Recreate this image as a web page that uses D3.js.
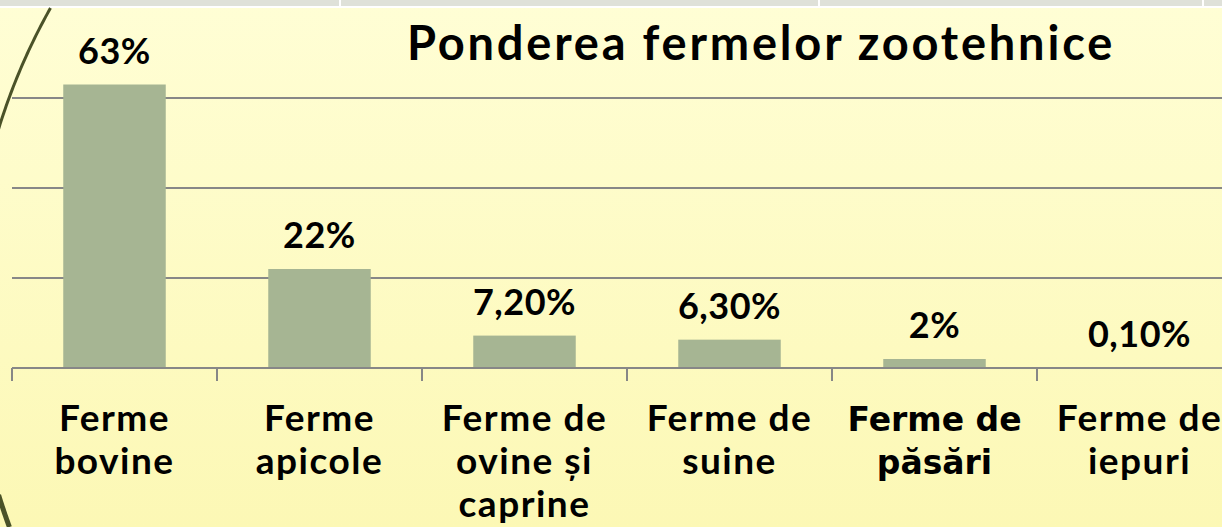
<!DOCTYPE html>
<html>
<head>
<meta charset="utf-8">
<script src="https://cdn.jsdelivr.net/npm/d3@7"></script>
<style>
html,body{margin:0;padding:0;background:#fffdd0;}
svg{display:block;}
</style>
</head>
<body>
<script>
const categories = ["Ferme bovine","Ferme apicole","Ferme de ovine și caprine","Ferme de suine","Ferme de păsări","Ferme de iepuri"];
const categoryLines = [["Ferme","bovine"],["Ferme","apicole"],["Ferme de","ovine și","caprine"],["Ferme de","suine"],["Ferme de","păsări"],["Ferme de","iepuri"]];
const values = [63, 22, 7.2, 6.3, 2, 0.1];
const valueLabels = ["63%","22%","7,20%","6,30%","2%","0,10%"];
const yTicks = [0, 20, 40, 60];
const title = "Ponderea fermelor zootehnice";

const W = 1222, H = 527;
const svg = d3.select("body").append("svg").attr("width", W).attr("height", H);
const defs = svg.append("defs");
const g1 = defs.append("linearGradient").attr("id","bg").attr("x1",0).attr("y1",0).attr("x2",0).attr("y2",1);
g1.append("stop").attr("offset","0%").attr("stop-color","#fffed5");
g1.append("stop").attr("offset","100%").attr("stop-color","#fcf8b5");
svg.append("rect").attr("width",W).attr("height",H).attr("fill","url(#bg)");

// top strip
svg.append("rect").attr("x",0).attr("y",0).attr("width",W).attr("height",6).attr("fill","#dfe1d9");
svg.append("rect").attr("x",0).attr("y",6).attr("width",W).attr("height",2).attr("fill","#ffffff");
[339, 818, 1202].forEach(x => svg.append("rect").attr("x",x).attr("y",0).attr("width",2).attr("height",7).attr("fill","#ffffff"));

// decorative arc (part of a large circle)
const cx = 592, cy = 312, r = 621;
function arcPts(y0, y1, n){
  const pts=[];
  for(let i=0;i<=n;i++){const yy=y0+(y1-y0)*i/n; const dx=Math.sqrt(r*r-(yy-cy)*(yy-cy)); pts.push([cx-dx,yy]);}
  return pts;
}
svg.append("path").attr("d", d3.line()(arcPts(8,130,40))).attr("fill","none").attr("stroke","#4a5228").attr("stroke-width",3);
svg.append("path").attr("d", d3.line()(arcPts(495,527,20))).attr("fill","none").attr("stroke","#4a5228").attr("stroke-width",5);

const x = d3.scaleBand().domain(categories).range([12, 1242]).paddingInner(0.5).paddingOuter(0.25);
const y = d3.scaleLinear().domain([0, 80]).range([368, 8]);

// gridlines
svg.append("g").selectAll("line").data(yTicks.filter(d=>d>0)).join("line")
  .attr("x1",12).attr("x2",W).attr("y1",d=>y(d)).attr("y2",d=>y(d))
  .attr("stroke","#878787").attr("stroke-width",2);

// bars
svg.append("g").selectAll("rect").data(values).join("rect")
  .attr("x",(d,i)=>x(categories[i])).attr("width",x.bandwidth())
  .attr("y",d=>y(d)).attr("height",d=>y(0)-y(d))
  .attr("fill","#a6b593");

// x axis baseline and ticks
svg.append("line").attr("x1",12).attr("x2",W).attr("y1",y(0)).attr("y2",y(0)).attr("stroke","#878787").attr("stroke-width",2);
const tickXs = categories.map(c => x(c) - x.step()*0.25).concat([x(categories[categories.length-1]) + x.step()*0.75]);
svg.append("g").selectAll("line").data(tickXs).join("line")
  .attr("x1",d=>d).attr("x2",d=>d).attr("y1",y(0)).attr("y2",y(0)+13)
  .attr("stroke","#878787").attr("stroke-width",2);

const FONT = "Lato, 'Open Sans', sans-serif";
// value labels
svg.append("g").selectAll("text").data(values).join("text")
  .attr("x",(d,i)=>x(categories[i])+x.bandwidth()/2).attr("y",d=>y(d)-21)
  .attr("text-anchor","middle").attr("font-family",FONT).attr("font-weight","bold")
  .attr("font-size",36).attr("letter-spacing",0.5).attr("fill","#000")
  .text((d,i)=>valueLabels[i]);

// category labels
const cg = svg.append("g");
categoryLines.forEach((lines,i)=>{
  const special = i===4;
  const t = cg.append("text").attr("text-anchor","middle")
    .attr("font-family", special ? "'DejaVu Sans', Verdana, sans-serif" : FONT)
    .attr("font-weight","bold").attr("font-size", special ? 33 : 37)
    .attr("letter-spacing", special ? 0 : 1.5).attr("fill","#000");
  lines.forEach((ln,j)=>{
    t.append("tspan").attr("x", x(categories[i])+x.bandwidth()/2).attr("y", 431 + j*43).text(ln);
  });
});

// title
svg.append("text").attr("x",761).attr("y",60).attr("text-anchor","middle")
  .attr("font-family",FONT).attr("font-weight","bold").attr("font-size",47).attr("letter-spacing",2.8).attr("fill","#000")
  .text(title);
</script>
</body>
</html>
